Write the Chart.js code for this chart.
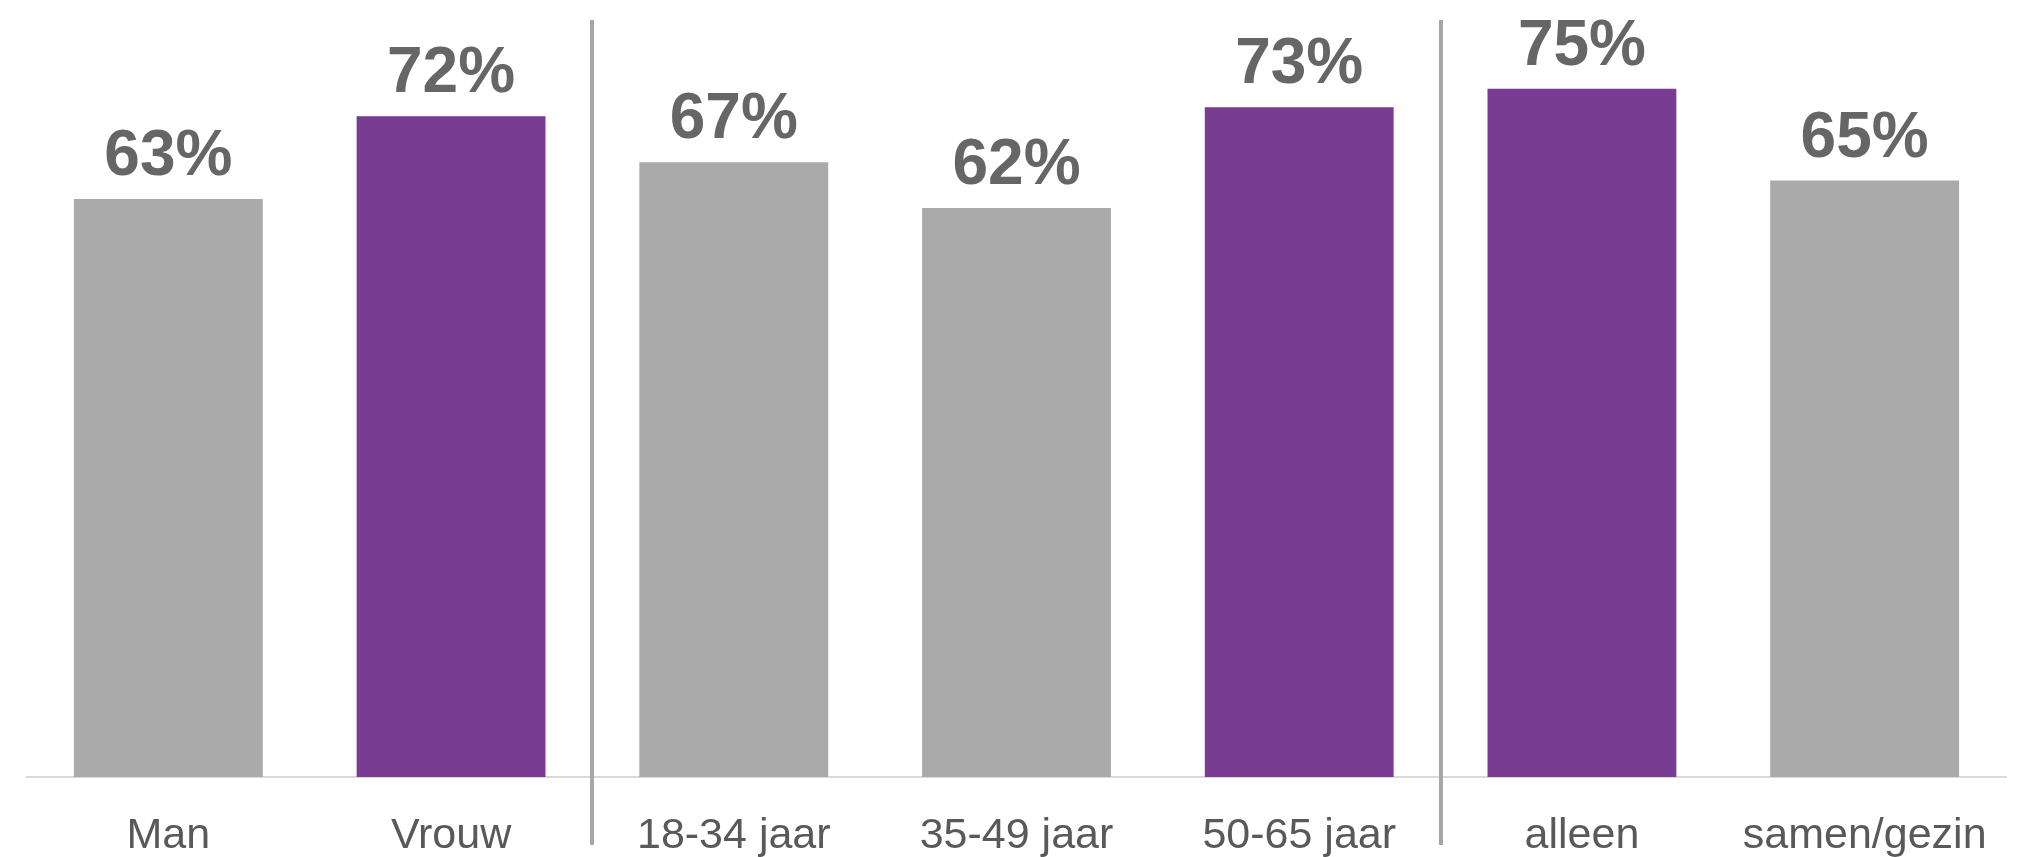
<!DOCTYPE html>
<html>
<head>
<meta charset="utf-8">
<script src="https://cdn.jsdelivr.net/npm/chart.js@4/dist/chart.umd.min.js"></script>
<style>
  html, body { margin: 0; padding: 0; background: #fff; }
  #wrap { width: 2044px; height: 857px; }
</style>
</head>
<body>
<div id="wrap"><canvas id="chart"></canvas></div>
<script>
// data
const categories = ['Man', 'Vrouw', '18-34 jaar', '35-49 jaar', '50-65 jaar', 'alleen', 'samen/gezin'];
const percentages = [63, 72, 67, 62, 73, 75, 65];
const highlighted = [false, true, false, false, true, true, false];
// separators sit after these category indexes
const groupBreaks = [1, 4];

const GREY = '#aaaaaa';
const PURPLE = '#783c92';

// draws the "63%" labels above bars
const valueLabels = {
    id: 'valueLabels',
    afterDatasetsDraw(chart) {
        const ctx = chart.ctx;
        const meta = chart.getDatasetMeta(0);
        ctx.save();
        ctx.font = 'bold 64px "Liberation Sans", Arial, sans-serif';
        ctx.fillStyle = '#666666';
        ctx.textAlign = 'center';
        ctx.textBaseline = 'alphabetic';
        meta.data.forEach((bar, i) => {
            ctx.fillText(percentages[i] + '%', bar.x, bar.y - 24);
        });
        ctx.restore();
    }
};

// vertical grey lines between the groups
const groupSeparators = {
    id: 'groupSeparators',
    afterDraw(chart) {
        const ctx = chart.ctx;
        const x = chart.scales.x;
        ctx.save();
        ctx.strokeStyle = '#a6a6a6';
        ctx.lineWidth = 4;
        groupBreaks.forEach(i => {
            const px = Math.round((x.getPixelForValue(i) + x.getPixelForValue(i + 1)) / 2);
            ctx.beginPath();
            ctx.moveTo(px, 20);
            ctx.lineTo(px, 845);
            ctx.stroke();
        });
        ctx.restore();
    }
};

new Chart(document.getElementById('chart'), {
    type: 'bar',
    data: {
        labels: categories,
        datasets: [{
            data: percentages,
            backgroundColor: highlighted.map(h => h ? PURPLE : GREY),
            borderWidth: 0,
            categoryPercentage: 1,
            barPercentage: 0.668
        }]
    },
    options: {
        responsive: true,
        maintainAspectRatio: false,
        animation: false,
        layout: {
            padding: { top: 20, left: 27, right: 38, bottom: 0 }
        },
        plugins: {
            legend: { display: false },
            tooltip: { enabled: false }
        },
        scales: {
            x: {
                grid: { display: false, drawTicks: false },
                border: { display: true, color: '#d9d9d9', width: 2 },
                ticks: {
                    padding: 33,
                    maxRotation: 0,
                    autoSkip: false,
                    color: '#595959',
                    font: { family: '"Liberation Sans", Arial, sans-serif', size: 43 }
                },
                afterFit(scale) {
                    scale.height = 80;
                }
            },
            y: {
                display: false,
                min: 0,
                max: 82.5
            }
        }
    },
    plugins: [valueLabels, groupSeparators]
});
</script>
</body>
</html>
